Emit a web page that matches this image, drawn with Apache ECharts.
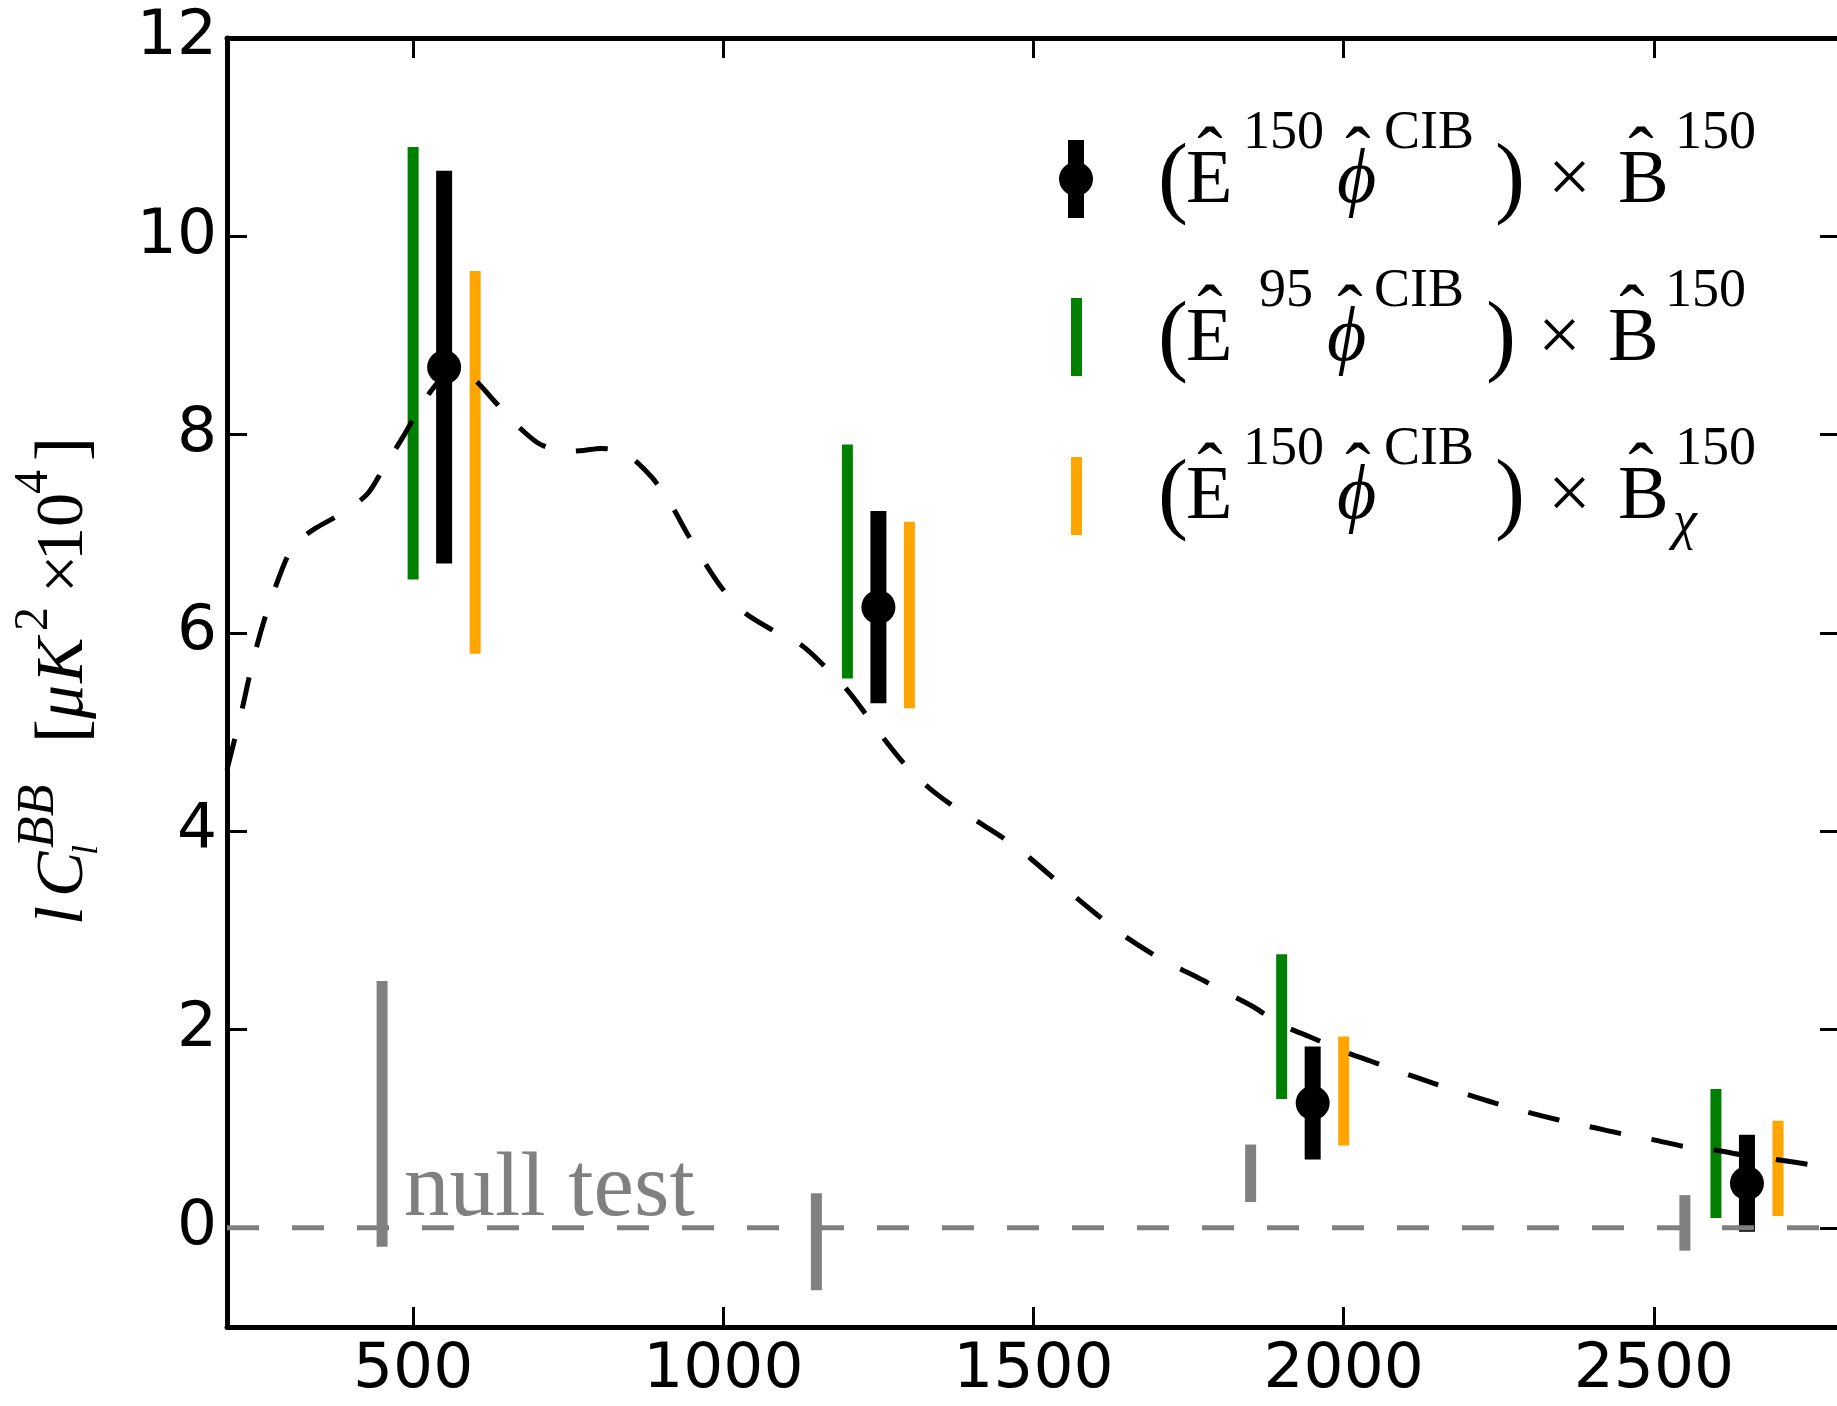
<!DOCTYPE html>
<html>
<head>
<meta charset="utf-8">
<script src="https://cdn.jsdelivr.net/npm/echarts@6/dist/echarts.min.js"></script>
<style>
  html, body { margin: 0; padding: 0; background: #ffffff; }
  #chart { width: 1837px; height: 1406px; }
</style>
</head>
<body>
<div id="chart"></div>
<script>
// Axis ticks
const xTicks = [500, 1000, 1500, 2000, 2500];
const yTicks = [0, 2, 4, 6, 8, 10, 12];

// (E^150 phi^CIB) x B^150 : points with error bars
const ellMain = [550, 1250, 1950, 2650];
const valMain = [8.68, 6.26, 1.26, 0.45];
const errMain = [1.98, 0.97, 0.57, 0.49];

// (E^95 phi^CIB) x B^150
const ell95 = [500, 1200, 1900, 2600];
const val95 = [8.72, 6.72, 2.03, 0.75];
const err95 = [2.18, 1.18, 0.73, 0.65];

// (E^150 phi^CIB) x B^150_chi
const ellChi = [600, 1300, 2000, 2700];
const valChi = [7.72, 6.18, 1.38, 0.60];
const errChi = [1.93, 0.94, 0.55, 0.48];

// null test
const ellNull = [450, 1150, 1850, 2550];
const valNull = [1.15, -0.14, 0.55, 0.05];
const errNull = [1.34, 0.49, 0.29, 0.28];

// lensing B-mode theory curve, l*C_l^BB
const ellTheory = [200, 225, 236, 249, 263, 282, 300, 320, 341, 383, 426, 453, 483, 507, 530, 555, 575, 600,
  625, 660, 700, 727, 746, 775, 802, 823, 848, 886, 915, 942, 968, 998, 1033, 1079, 1125, 1164, 1199,
  1231, 1263, 1296, 1333, 1376, 1422, 1468, 1500, 1550, 1600, 1650, 1714, 1760, 1808, 1854, 1899, 1948,
  1996, 2044, 2093, 2144, 2192, 2243, 2294, 2345, 2397, 2447, 2498, 2550, 2603, 2638, 2708, 2759];
const valTheory = [4.62, 5.25, 5.56, 5.89, 6.19, 6.53, 6.80, 6.95, 7.05, 7.20, 7.40, 7.67, 7.97, 8.23, 8.45, 8.62, 8.65, 8.55,
  8.38, 8.14, 7.92, 7.85, 7.83, 7.84, 7.86, 7.85, 7.79, 7.56, 7.30, 7.00, 6.73, 6.45, 6.21, 6.03, 5.88, 5.66, 5.43,
  5.17, 4.90, 4.65, 4.43, 4.23, 4.05, 3.86, 3.70, 3.43, 3.17, 2.93, 2.68, 2.54, 2.38, 2.23, 2.05, 1.92,
  1.79, 1.68, 1.57, 1.46, 1.36, 1.26, 1.17, 1.09, 1.02, 0.95, 0.89, 0.82, 0.78, 0.74, 0.68, 0.63];

// zero reference level
const zeroSpan = [200, 2800];
const zeroLevel = 0;

const SERIF = '"Liberation Serif", "DejaVu Serif", serif';
const SANS = '"DejaVu Sans", sans-serif';

function errorBars(name, ells, vals, errs, color, width, z) {
  return {
    type: 'custom',
    name: name,
    z: z,
    clip: true,
    data: ells.map((l, i) => [l, vals[i] - errs[i], vals[i] + errs[i]]),
    encode: { x: 0, y: [1, 2] },
    renderItem: function (params, api) {
      const lo = api.coord([api.value(0), api.value(1)]);
      const hi = api.coord([api.value(0), api.value(2)]);
      return {
        type: 'rect',
        shape: { x: lo[0] - width / 2, y: hi[1], width: width, height: lo[1] - hi[1] },
        style: { fill: color }
      };
    }
  };
}

// text piece placed by its baseline
function piece(text, x, base, size, opts) {
  opts = opts || {};
  return {
    type: 'text',
    x: x,
    y: base - 0.26 * size,
    silent: true,
    style: {
      text: text,
      fill: opts.color || '#000',
      font: (opts.italic ? 'italic ' : '') + size + 'px ' + SERIF,
      align: opts.align || 'left',
      verticalAlign: 'middle'
    }
  };
}

// circumflex accent centred at cx, sitting over a capital of the given baseline
function hat(cx, base) {
  return piece('\u02C6', cx, base - 22, 76, { align: 'center' });
}

function legendRow(base, eSup, eSupX, phiX, phiHatX, cibX, closeX, timesX, bX, bHatX, bSupX, withChi) {
  const out = [
    piece('(', 1158, base + 4, 90),
    piece('E', 1186, base, 76),
    hat(1210, base),
    piece(eSup, eSupX, base - 54, 54),
    piece('\u03D5', phiX, base, 76, { italic: true }),
    hat(phiHatX, base),
    piece('CIB', cibX, base - 54, 54),
    piece(')', closeX, base + 4, 90),
    piece('\u00D7', timesX, base, 76),
    piece('B', bX, base, 76),
    hat(bHatX, base),
    piece('150', bSupX, base - 54, 54)
  ];
  if (withChi) out.push(piece('\u03C7', bSupX - 2, base + 20, 54, { italic: true }));
  return out;
}

const legendGraphics = [
  // marker glyphs
  { type: 'rect', shape: { x: 1068, y: 140, width: 16, height: 78 }, style: { fill: '#000' } },
  { type: 'circle', shape: { cx: 1076, cy: 179, r: 17 }, style: { fill: '#000' } },
  { type: 'rect', shape: { x: 1071, y: 298, width: 11, height: 78 }, style: { fill: '#008000' } },
  { type: 'rect', shape: { x: 1071, y: 457, width: 11, height: 78 }, style: { fill: '#FFA500' } }
]
  .concat(legendRow(202, '150', 1243, 1337, 1358, 1384, 1495, 1548, 1618, 1641, 1675, false))
  .concat(legendRow(360, '95', 1259, 1327, 1350, 1374, 1486, 1538, 1608, 1632, 1665, false))
  .concat(legendRow(518, '150', 1243, 1337, 1358, 1384, 1495, 1548, 1618, 1641, 1675, true));

// y-axis title, written along the axis (bottom to top)
const yTitle = {
  type: 'group',
  x: 0,
  y: 927,
  rotation: Math.PI / 2,
  children: [
    piece('l', 2, 82, 68, { italic: true }),
    piece('C', 30, 82, 68, { italic: true }),
    piece('BB', 79, 53, 52, { italic: true }),
    piece('l', 72, 97, 36, { italic: true }),
    piece('[', 184, 84, 72),
    piece('\u03BC', 208, 82, 68, { italic: true }),
    piece('K', 244, 82, 68, { italic: true }),
    piece('2', 296, 47, 48),
    piece('\u00D7', 334, 82, 68),
    piece('10', 366, 82, 68),
    piece('4', 433, 47, 48),
    piece(']', 466, 84, 72)
  ]
};

const chart = echarts.init(document.getElementById('chart'), null, { renderer: 'canvas' });

const axisLine = { show: true, onZero: false, lineStyle: { color: '#000', width: 5 } };
const tickStyle = { color: '#000', width: 3 };
const plainNumber = v => String(v);

chart.setOption({
  backgroundColor: '#ffffff',
  animation: false,
  grid: { left: 227, right: -3, top: 38, bottom: 79, outerBoundsMode: 'none' },
  xAxis: [
    {
      type: 'value', min: 200, max: 2800, position: 'bottom',
      axisLine: axisLine,
      axisTick: { show: true, inside: true, length: 20, lineStyle: tickStyle, customValues: xTicks },
      axisLabel: { show: true, customValues: xTicks, formatter: plainNumber, fontFamily: SANS, fontSize: 63, color: '#000', margin: 12 },
      splitLine: { show: false }
    },
    {
      type: 'value', min: 200, max: 2800, position: 'top',
      axisLine: axisLine,
      axisTick: { show: true, inside: true, length: 20, lineStyle: tickStyle, customValues: xTicks },
      axisLabel: { show: false },
      splitLine: { show: false }
    }
  ],
  yAxis: [
    {
      type: 'value', min: -1, max: 12, position: 'left',
      axisLine: axisLine,
      axisTick: { show: true, inside: true, length: 20, lineStyle: tickStyle, customValues: yTicks },
      axisLabel: { show: true, customValues: yTicks, formatter: plainNumber, fontFamily: SANS, fontSize: 63, color: '#000', margin: 10 },
      splitLine: { show: false }
    },
    {
      type: 'value', min: -1, max: 12, position: 'right',
      axisLine: axisLine,
      axisTick: { show: true, inside: true, length: 20, lineStyle: tickStyle, customValues: yTicks },
      axisLabel: { show: false },
      splitLine: { show: false }
    }
  ],
  series: [
    errorBars('E95', ell95, val95, err95, '#008000', 11, 2),
    errorBars('Bchi', ellChi, valChi, errChi, '#FFA500', 11, 2),
    {
      type: 'line', name: 'theory', z: 3,
      data: ellTheory.map((l, i) => [l, valTheory[i]]),
      showSymbol: false, smooth: 0.3, clip: true,
      lineStyle: { color: '#000', width: 5, type: [32, 31] }
    },
    errorBars('E150', ellMain, valMain, errMain, '#000', 16, 4),
    {
      type: 'scatter', name: 'E150pts', z: 4,
      data: ellMain.map((l, i) => [l, valMain[i]]),
      symbol: 'circle', symbolSize: 34,
      itemStyle: { color: '#000', opacity: 1 }
    },
    {
      type: 'line', name: 'zero', z: 5,
      data: zeroSpan.map(l => [l, zeroLevel]),
      showSymbol: false, clip: true,
      lineStyle: { color: '#808080', width: 5, type: [32, 33] }
    },
    errorBars('null', ellNull, valNull, errNull, '#808080', 11, 5)
  ],
  graphic: [
    yTitle,
    piece('null test', 404, 1215, 91, { color: '#808080' })
  ].concat(legendGraphics)
});
</script>
</body>
</html>
